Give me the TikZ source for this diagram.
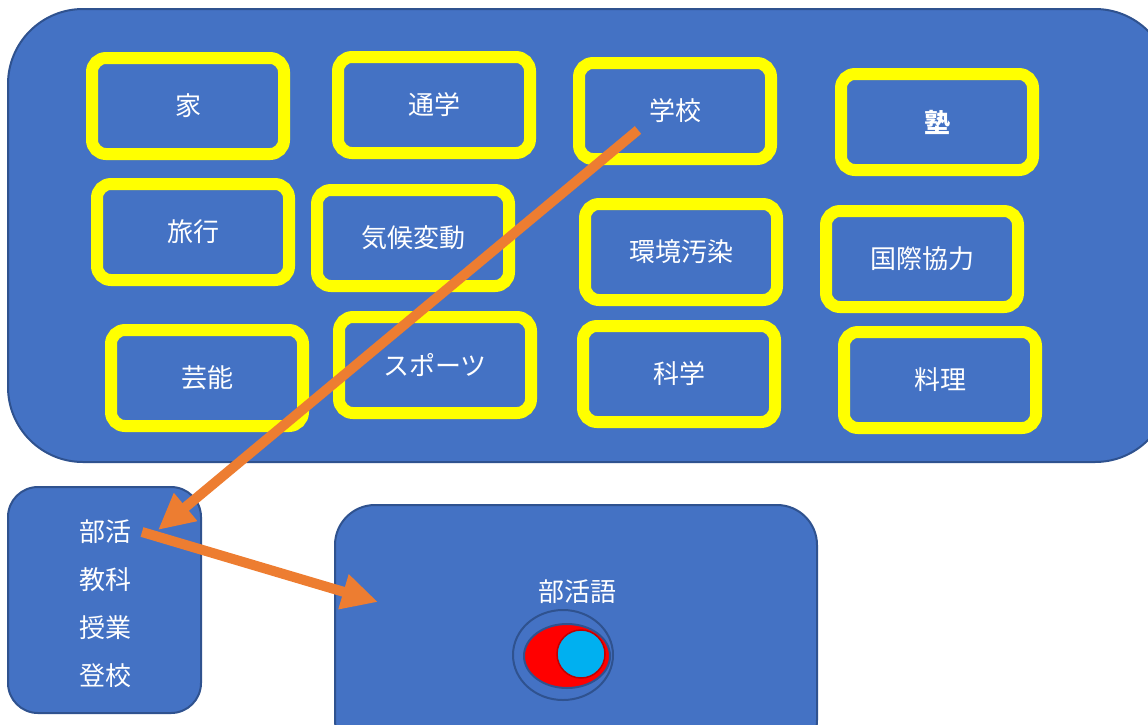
\documentclass[tikz,border=0pt]{standalone}
\usepackage{fontspec}
\newfontfamily\jp{Noto Sans CJK JP}
\usetikzlibrary{shapes.geometric,arrows.meta}
\definecolor{bluefill}{HTML}{4472C4}
\definecolor{blueline}{HTML}{2F528F}
\definecolor{yel}{HTML}{FFFF00}
\definecolor{orng}{HTML}{ED7D31}
\definecolor{cyanfill}{HTML}{00B0F0}
\definecolor{darkred}{HTML}{C00000}
\tikzset{
  panel/.style={draw=blueline,fill=bluefill,line width=2pt},
  ybox/.style={draw=yel,line width=12pt,rounded corners=14pt,minimum width=192pt,minimum height=96pt,
    text=white,font=\jp\fontsize{26}{30}\selectfont,inner sep=0pt},
  wtext/.style={text=white,font=\jp\fontsize{26}{30}\selectfont,inner sep=0pt},
  oarrow/.style={draw=orng,line width=10pt,-{Triangle[length=36pt,width=34pt]}}
}
\begin{document}
\begin{tikzpicture}[x=1pt,y=-1pt]
\useasboundingbox (0,0) rectangle (1148,724);
\clip (0,0) rectangle (1148,724);
% big panel
\draw[panel,rounded corners=75pt] (8,9) rectangle (1170,462);
% left panel
\draw[panel,rounded corners=30pt] (8,487) rectangle (201,713);
% right panel
\draw[panel,rounded corners=40pt] (335,505) rectangle (817,760);
% yellow boxes
\node[ybox] (ie)    at (188,106) {家};
\node[ybox] (tsu)   at (434,105) {通学};
\node[ybox] (gak)   at (675,111) {学校};
\node[ybox] (juku)  at (937,122) {\textbf{塾}};
\node[ybox] (ryo)   at (193,232) {旅行};
\node[ybox] (kiko)  at (413,238) {気候変動};
\node[ybox] (kan)   at (681,252) {環境汚染};
\node[ybox] (koku)  at (922,259) {国際協力};
\node[ybox] (gei)   at (207,378) {芸能};
\node[ybox] (spo)   at (435,365) {スポーツ};
\node[ybox] (kag)   at (679,374) {科学};
\node[ybox] (ryori) at (940,380) {料理};
% left list
\node[wtext] (bukatsu) at (105,532) {部活};
\node[wtext] (kyoka)   at (105,580) {教科};
\node[wtext] (jugyo)   at (105,628) {授業};
\node[wtext] (tokou)   at (105,676) {登校};
% right panel content
\node[wtext] (bgo) at (577,592) {部活語};
\node[draw=blueline,line width=2pt,ellipse,minimum width=100pt,minimum height=90pt,inner sep=0pt] (outerE) at (563,655) {};
\node[draw=blueline,fill=red,line width=2pt,ellipse,minimum width=86pt,minimum height=64pt,inner sep=0pt] (redE) at (567,656) {};
\node[draw=darkred,fill=cyanfill,line width=1.5pt,circle,minimum size=48pt,inner sep=0pt] (cyanC) at (581,654) {};
% arrows
\coordinate (a1s) at (638,130);
\coordinate (a1e) at (158,530);
\coordinate (a2s) at (142,532);
\coordinate (a2e) at (378,602);
\draw[oarrow] (a1s) -- (a1e);
\draw[oarrow] (a2s) -- (a2e);
\end{tikzpicture}
\end{document}
